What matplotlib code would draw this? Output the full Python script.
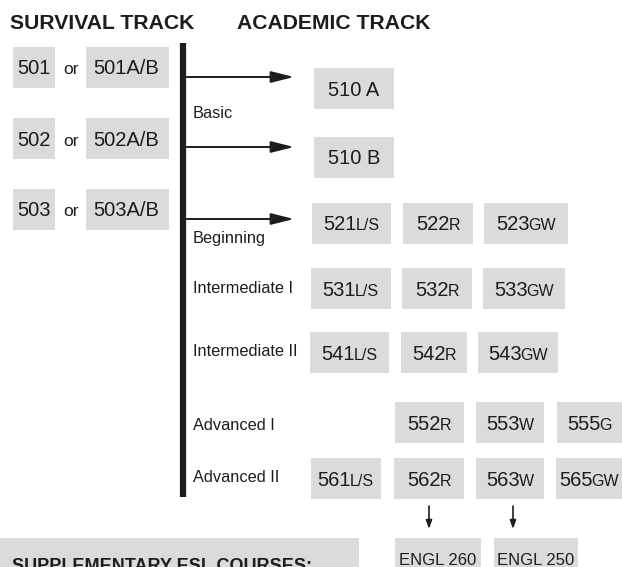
import matplotlib as mpl
import matplotlib.pyplot as plt
from matplotlib.patches import Rectangle
from matplotlib.font_manager import FontProperties

mpl.rcParams["font.family"] = ["Liberation Sans", "DejaVu Sans"]

INK = "#1E1C1D"
BOX = "#DADBDC"

# ---- content ----
TRACK_TITLES = ["SURVIVAL TRACK", "ACADEMIC TRACK"]
SURVIVAL = [("501", "501A/B"), ("502", "502A/B"), ("503", "503A/B")]
BASIC = ["510 A", "510 B"]
LEVELS = ["Basic", "Beginning", "Intermediate I", "Intermediate II",
          "Advanced I", "Advanced II"]
BEGINNING = [("521", "L/S"), ("522", "R"), ("523", "GW")]
INTERMEDIATE_1 = [("531", "L/S"), ("532", "R"), ("533", "GW")]
INTERMEDIATE_2 = [("541", "L/S"), ("542", "R"), ("543", "GW")]
ADVANCED_1 = [("552", "R"), ("553", "W"), ("555", "G")]
ADVANCED_2 = [("561", "L/S"), ("562", "R"), ("563", "W"), ("565", "GW")]
ENGL = ["ENGL 260", "ENGL 250"]
SUPPLEMENTARY = "SUPPLEMENTARY ESL COURSES:"

# ---- layout (pixel coords, y down) ----
SURV_Y = [(47, 88), (118, 159), (189, 230)]
BASIC_Y = [(68, 109), (137, 178)]
ARROW_Y = [77, 147, 219]
LEVEL_BASE = [118, 243, 293, 356, 430, 482]
ROWS = [
    (BEGINNING, (203, 244), [(312, 391), (403, 473), (484, 568)]),
    (INTERMEDIATE_1, (268, 309), [(311, 391), (402, 472), (483, 565)]),
    (INTERMEDIATE_2, (332, 373), [(310, 389), (401, 467), (478, 558)]),
    (ADVANCED_1, (402, 443), [(395, 464), (476, 544), (557, 622)]),
    (ADVANCED_2, (458, 499), [(311, 381), (394, 464), (476, 544), (556, 622)]),
]
ENGL_X = [(395, 481), (494, 578)]

NUM_SIZE = 14.5
SUF_SIZE = 11.5

fig = plt.figure(figsize=(6.22, 5.67), dpi=100)
ax = fig.add_axes([0, 0, 1, 1])
ax.set_xlim(0, 622)
ax.set_ylim(567, 0)
ax.axis("off")
renderer = fig.canvas.get_renderer()


def box(x0, x1, y0, y1):
    ax.add_patch(Rectangle((x0, y0), x1 - x0, y1 - y0, fc=BOX, ec="none", zorder=1))


def text_w(s, size):
    prop = FontProperties(family=["Liberation Sans"], size=size)
    w, _, _ = renderer.get_text_width_height_descent(s, prop, ismath=False)
    return w  # pixels == data units here


def course(num, suffix, x0, x1, y0, y1):
    box(x0, x1, y0, y1)
    base = (y0 + y1) / 2 + 7
    w1, w2 = text_w(num, NUM_SIZE) - 1, text_w(suffix, SUF_SIZE)
    start = (x0 + x1) / 2 - (w1 + w2) / 2
    ax.text(start, base, num, fontsize=NUM_SIZE, color=INK, va="baseline", zorder=2)
    ax.text(start + w1, base, suffix, fontsize=SUF_SIZE, color=INK, va="baseline", zorder=2)


# titles
ax.text(10, 29, TRACK_TITLES[0], fontsize=15.2, fontweight="bold", color=INK, va="baseline")
ax.text(237, 29, TRACK_TITLES[1], fontsize=15.2, fontweight="bold", color=INK, va="baseline")

# survival track
for (a, b), (y0, y1) in zip(SURVIVAL, SURV_Y):
    box(13, 55, y0, y1)
    box(86, 169, y0, y1)
    base = (y0 + y1) / 2 + 7
    ax.text(34, base, a, fontsize=NUM_SIZE, color=INK, ha="center", va="baseline")
    ax.text(71, base, "or", fontsize=12.5, color=INK, ha="center", va="baseline")
    ax.text(126, base, b, fontsize=NUM_SIZE, color=INK, ha="center", va="baseline")

# vertical bar and arrows
ax.plot([183, 183], [43, 497], color=INK, lw=4.5, solid_capstyle="butt")
for y in ARROW_Y:
    ax.annotate("", xy=(294, y), xytext=(185, y),
                arrowprops=dict(arrowstyle="-|>,head_length=1.4,head_width=0.35",
                                color=INK, lw=1.4, shrinkA=0, shrinkB=0))

# level labels
for lab, yb in zip(LEVELS, LEVEL_BASE):
    ax.text(193, yb, lab, fontsize=11.8, color=INK, va="baseline")

# basic courses
for lab, (y0, y1) in zip(BASIC, BASIC_Y):
    box(314, 394, y0, y1)
    ax.text(354, (y0 + y1) / 2 + 7, lab, fontsize=NUM_SIZE, color=INK, ha="center", va="baseline")

# academic rows
for courses, (y0, y1), xs in ROWS:
    for (num, suf), (x0, x1) in zip(courses, xs):
        course(num, suf, x0, x1, y0, y1)

# down arrows to ENGL
for xc in [429, 513]:
    ax.annotate("", xy=(xc, 529), xytext=(xc, 506),
                arrowprops=dict(arrowstyle="-|>,head_length=0.5,head_width=0.18",
                                color=INK, lw=1.2, shrinkA=0, shrinkB=0))
for lab, (x0, x1) in zip(ENGL, ENGL_X):
    box(x0, x1, 538, 575)
    ax.text((x0 + x1) / 2, 565, lab, fontsize=12, color=INK, ha="center", va="baseline")

# supplementary (cut off at the bottom edge, as in the source)
box(0, 359, 538, 580)
ax.text(12, 571, SUPPLEMENTARY, fontsize=13, fontweight="bold", color=INK, va="baseline")

fig.savefig("out.png", dpi=100, facecolor="white")
